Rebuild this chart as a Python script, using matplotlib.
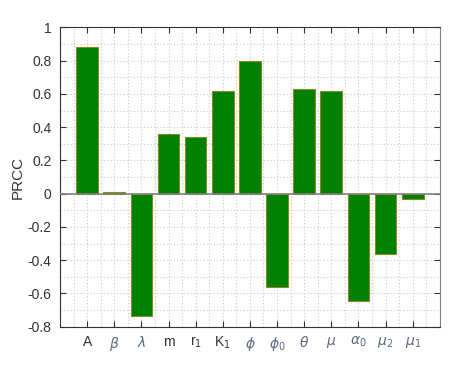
import matplotlib
matplotlib.use("Agg")
import matplotlib.pyplot as plt
from matplotlib.ticker import MultipleLocator

plt.rcParams["font.family"] = ["Liberation Sans", "DejaVu Sans"]
plt.rcParams["mathtext.fontset"] = "dejavusans"

params = ["A", r"$\beta$", r"$\lambda$", "m", r"r$_1$", r"K$_1$", r"$\phi$",
          r"$\phi_0$", r"$\theta$", r"$\mu$", r"$\alpha_0$", r"$\mu_2$", r"$\mu_1$"]
prcc = [0.884, 0.008, -0.734, 0.357, 0.341, 0.62, 0.80,
        -0.561, 0.628, 0.618, -0.644, -0.363, -0.034]

fig = plt.figure(figsize=(4.76, 3.7), dpi=100)
ax = fig.add_axes([0.126, 0.117, 0.798, 0.809])

pos = list(range(1, len(params) + 1))
ax.bar(pos, prcc, width=0.8, color="#008000", edgecolor="#8a8a1a", linewidth=0.8, zorder=3)
ax.axhline(0, color="#808080", linewidth=1.2, zorder=4)

ax.set_xlim(0, 14)
ax.set_ylim(-0.8, 1.0)
ax.set_xticks(pos)
ax.set_xticklabels(params, fontsize=10, color="#333333")
for lbl, p in zip(ax.get_xticklabels(), params):
    if p.startswith("$"):
        lbl.set_color("#5a6a80")
ax.yaxis.set_minor_locator(MultipleLocator(0.1))
ax.xaxis.set_minor_locator(MultipleLocator(0.5))
ax.set_yticks([-0.8, -0.6, -0.4, -0.2, 0, 0.2, 0.4, 0.6, 0.8, 1.0])
ax.set_yticklabels(["-0.8", "-0.6", "-0.4", "-0.2", "0", "0.2", "0.4", "0.6", "0.8", "1"],
                   fontsize=10, color="#333333")
ax.grid(True, which="both", linestyle=(0, (1, 2)), color="#c8c8c8", linewidth=0.8, zorder=0)
ax.tick_params(which="major", direction="in", top=True, right=True, length=4, color="#333333", pad=6)
ax.tick_params(which="minor", length=0)
ax.set_ylabel("PRCC", fontsize=11, color="#333333", labelpad=2)
for s in ax.spines.values():
    s.set_color("#333333")
ax.spines["right"].set_color("#808080")

fig.savefig("out.png", dpi=100)
